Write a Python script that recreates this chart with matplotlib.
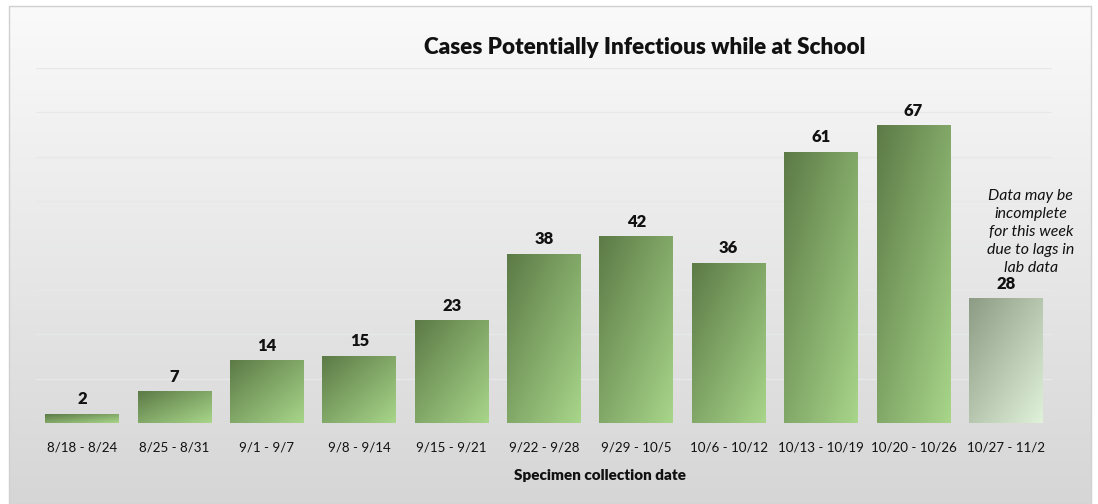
import numpy as np
import matplotlib.pyplot as plt
from matplotlib.patches import Rectangle

plt.rcParams['font.family'] = ['Lato', 'DejaVu Sans']

weeks = ['8/18 - 8/24', '8/25 - 8/31', '9/1 - 9/7', '9/8 - 9/14', '9/15 - 9/21',
         '9/22 - 9/28', '9/29 - 10/5', '10/6 - 10/12', '10/13 - 10/19',
         '10/20 - 10/26', '10/27 - 11/2']
cases = [2, 7, 14, 15, 23, 38, 42, 36, 61, 67, 28]
note = 'Data may be\nincomplete\nfor this week\ndue to lags in\nlab data'

W, H = 1098, 504
fig = plt.figure(figsize=(W / 100, H / 100), dpi=100)
fig.patch.set_facecolor('white')

# background panel with vertical gradient
bg = fig.add_axes([9 / W, 0, 1082 / W, 498 / H], zorder=-5)
grad = np.linspace(0, 1, 256).reshape(-1, 1)
top_c = np.array([250, 250, 250]) / 255
bot_c = np.array([214, 214, 214]) / 255
img = top_c + (bot_c - top_c) * grad[:, :, None]
bg.imshow(img, aspect='auto', extent=(0, 1, 0, 1), origin='upper')
bg.set_xlim(0, 1)
bg.set_ylim(0, 1)
bg.axis('off')
fig.patches.append(Rectangle((9 / W, 0), 1082 / W, 498 / H, transform=fig.transFigure,
                             fill=False, edgecolor='#d0d0d0', lw=1))

ax = fig.add_axes([36 / W, 81 / H, 1016 / W, 355 / H])
ax.set_facecolor('none')
x = np.arange(len(weeks))
bars = ax.bar(x, cases, width=0.8, color='none', zorder=3)


def diag_gradient(c0, c1, n=200):
    u = np.linspace(0, 1, n)[None, :]
    v = np.linspace(0, 1, n)[:, None]
    t = (u + v) / 2
    c0 = np.array(c0) / 255
    c1 = np.array(c1) / 255
    return c0 + (c1 - c0) * t[:, :, None]


green = diag_gradient((92, 122, 70), (168, 214, 138))
gray = diag_gradient((140, 155, 132), (225, 242, 218))
for i, b in enumerate(bars):
    g = gray if i == len(bars) - 1 else green
    ax.imshow(g, aspect='auto', origin='upper', zorder=3,
              extent=(b.get_x(), b.get_x() + b.get_width(), 0, b.get_height()))
    ax.annotate(str(cases[i]), (b.get_x() + b.get_width() / 2, b.get_height()),
                xytext=(0, 5), textcoords='offset points', ha='center', va='bottom',
                fontsize=12, fontweight='heavy', color='#111111')

ax.set_xlim(-0.5, len(weeks) - 0.5)
ax.set_ylim(0, 80)
ax.set_yticks(range(0, 81, 10))
ax.yaxis.grid(True, color='#e6e8eb', lw=1, zorder=0)
ax.tick_params(axis='y', left=False, labelleft=False)
ax.tick_params(axis='x', length=0, pad=13, labelsize=9.6, labelcolor='#111111')
ax.set_xticks(x)
ax.set_xticklabels(weeks)
for s in ax.spines.values():
    s.set_visible(False)

ax.text(10.27, 43, note, ha='center', va='center', fontsize=11.4, style='italic',
        linespacing=1.36, color='#111111')

fig.text(645 / W, 1 - 47 / H, 'Cases Potentially Infectious while at School',
         ha='center', va='center', fontsize=16.2, fontweight='heavy', color='#111111')
fig.text(600 / W, 1 - 476 / H, 'Specimen collection date', ha='center', va='center',
         fontsize=11, fontweight='heavy', color='#111111')

fig.savefig('out.png', dpi=100)
